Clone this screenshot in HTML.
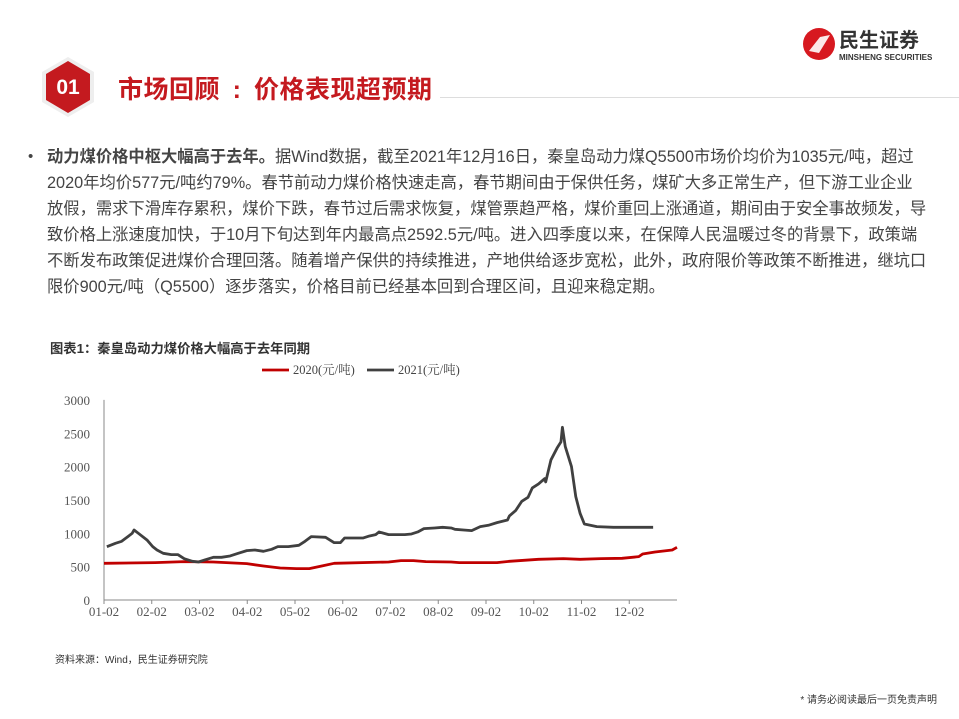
<!DOCTYPE html>
<html><head><meta charset="utf-8"><style>
body{margin:0;width:959px;height:719px;background:#fff;position:relative;overflow:hidden;font-family:"Liberation Sans","Noto Sans CJK SC",sans-serif;}
.abs{position:absolute;}
.body{left:47px;top:144px;font-size:16.3px;line-height:26px;color:#444;white-space:nowrap;}
</style></head><body>
<div class="abs" style="left:802px;top:25px;width:140px;height:38px;">
 <svg width="140" height="38"><circle cx="17" cy="19" r="16" fill="#d71920"/>
 <path d="M7 26 L18 12 L28 10 L17 28 Z" fill="#fff" opacity="0.9"/>
 <text x="37" y="22" font-size="20" font-weight="bold" fill="#333" font-family="Liberation Sans,Noto Sans CJK SC,sans-serif">民生证券</text>
 <text x="37" y="35" font-size="8" font-weight="bold" fill="#333" font-family="Liberation Sans,sans-serif">MINSHENG SECURITIES</text></svg>
</div>
<div class="abs" style="left:38px;top:55px;width:60px;height:64px;">
 <svg width="60" height="64"><polygon points="30,2 56,17 56,47 30,62 4,47 4,17" fill="#eee"/><polygon points="30,6 52,19 52,45 30,58 8,45 8,19" fill="#c41a1f"/>
 <text x="30" y="39" font-size="21" font-weight="bold" fill="#fff" text-anchor="middle" font-family="Liberation Sans,sans-serif">01</text></svg>
</div>
<div class="abs" style="left:118px;top:70px;font-size:25px;font-weight:bold;color:#c41a1f;letter-spacing:0.5px;">市场回顾<span style="display:inline-block;width:34px;text-align:center;">:</span>价格表现超预期</div>
<div class="abs" style="left:440px;top:97px;width:519px;height:1px;background:#ddd;"></div>
<div class="abs" style="left:28px;top:144px;font-size:15px;color:#444;line-height:26px;">•</div>
<div class="abs body"><b>动力煤价格中枢大幅高于去年。</b>据Wind数据，截至2021年12月16日，秦皇岛动力煤Q5500市场价均价为1035元/吨，超过<br>2020年均价577元/吨约79%。春节前动力煤价格快速走高，春节期间由于保供任务，煤矿大多正常生产，但下游工业企业<br>放假，需求下滑库存累积，煤价下跌，春节过后需求恢复，煤管票趋严格，煤价重回上涨通道，期间由于安全事故频发，导<br>致价格上涨速度加快，于10月下旬达到年内最高点2592.5元/吨。进入四季度以来，在保障人民温暖过冬的背景下，政策端<br>不断发布政策促进煤价合理回落。随着增产保供的持续推进，产地供给逐步宽松，此外，政府限价等政策不断推进，继坑口<br>限价900元/吨（Q5500）逐步落实，价格目前已经基本回到合理区间，且迎来稳定期。</div>
<div class="abs" style="left:50px;top:338px;font-size:13.3px;font-weight:bold;color:#333;">图表1：秦皇岛动力煤价格大幅高于去年同期</div>
<svg class="abs" style="left:0;top:0" width="959" height="719" id="chart"></svg>
<div class="abs" style="left:55px;top:651px;font-size:10px;color:#333;">资料来源：Wind，民生证券研究院</div>
<div class="abs" style="right:22px;top:691px;font-size:10px;color:#333;">* 请务必阅读最后一页免责声明</div>
<script>
const monthLabels=["01-02","02-02","03-02","04-02","05-02","06-02","07-02","08-02","09-02","10-02","11-02","12-02"];
const yTicks=[0,500,1000,1500,2000,2500,3000];
const s2021X=[0.06,0.24,0.37,0.5,0.59,0.63,0.72,0.9,1.02,1.11,1.24,1.41,1.55,1.68,1.85,1.98,2.11,2.29,2.46,2.64,2.81,2.99,3.16,3.34,3.51,3.64,3.86,4.08,4.21,4.34,4.64,4.82,4.95,5.04,5.43,5.56,5.69,5.76,5.96,6.3,6.44,6.57,6.7,6.92,7.09,7.27,7.35,7.53,7.7,7.88,8.05,8.23,8.45,8.49,8.62,8.75,8.88,8.97,9.1,9.23,9.25,9.36,9.49,9.57,9.6,9.66,9.79,9.88,9.97,10.06,10.32,10.67,11.5];
const s2021Y=[800,850,880,950,1000,1050,1000,900,800,750,700,680,680,620,580,570,600,640,640,660,700,740,750,730,760,800,800,820,880,950,940,860,860,930,930,960,980,1020,980,980,990,1020,1070,1080,1090,1080,1060,1050,1040,1100,1120,1160,1200,1260,1340,1480,1540,1680,1740,1820,1770,2100,2280,2370,2590,2300,2000,1550,1300,1140,1100,1090,1090];
const s2020X=[0,1.07,1.68,2.29,2.99,3.34,3.69,4.03,4.3,4.56,4.82,5.96,6.22,6.48,6.74,7.27,7.44,8.23,8.49,9.1,9.62,9.97,10.41,10.85,11.2,11.28,11.54,11.9,12];
const s2020Y=[550,560,575,570,545,510,480,470,470,510,550,570,590,590,575,570,560,560,580,610,620,610,620,625,650,690,720,750,790];
const NS="http://www.w3.org/2000/svg";
const svg=document.getElementById('chart');
const X0=104,MW=47.75,Y0=600,YS=66.7/1000;
const xs=m=>X0+m*MW, ys=v=>Y0-v*YS;
function mk(t,a){const e=document.createElementNS(NS,t);for(const k in a)e.setAttribute(k,a[k]);svg.appendChild(e);return e;}
let ax=mk('line',{x1:X0,y1:ys(3000),x2:X0,y2:Y0,stroke:'#888','stroke-width':1});


let bx=mk('line',{x1:X0,y1:Y0,x2:xs(12),y2:Y0,stroke:'#888','stroke-width':1});


yTicks.forEach(v=>{const t=mk('text',{x:X0-14,y:ys(v)+5,'text-anchor':'end','font-size':13,fill:'#555','font-family':'Liberation Serif,serif'});t.textContent=v;

});
monthLabels.forEach((l,i)=>{mk('line',{x1:xs(i),y1:Y0,x2:xs(i),y2:Y0+4,stroke:'#888'});const t=mk('text',{x:xs(i),y:Y0+16,'text-anchor':'middle','font-size':13,fill:'#555','font-family':'Liberation Serif,serif'});t.textContent=l;

});
function line(X,Y,c,n){const p=mk('polyline',{points:X.map((m,i)=>xs(m)+','+ys(Y[i])).join(' '),fill:'none',stroke:c,'stroke-width':2.8,'stroke-linejoin':'round'});

}
line(s2020X,s2020Y,'#c00000','series-2020');
line(s2021X,s2021Y,'#404040','series-2021');
[[262,'#c00000','2020(元/吨)'],[367,'#404040','2021(元/吨)']].forEach(([x,c,l])=>{mk('line',{x1:x,y1:370,x2:x+27,y2:370,stroke:c,'stroke-width':2.8});const t=mk('text',{x:x+31,y:374,'font-size':12.5,fill:'#444','font-family':'Liberation Serif,Noto Serif CJK SC,serif'});t.textContent=l;

});
</script>
</body></html>
